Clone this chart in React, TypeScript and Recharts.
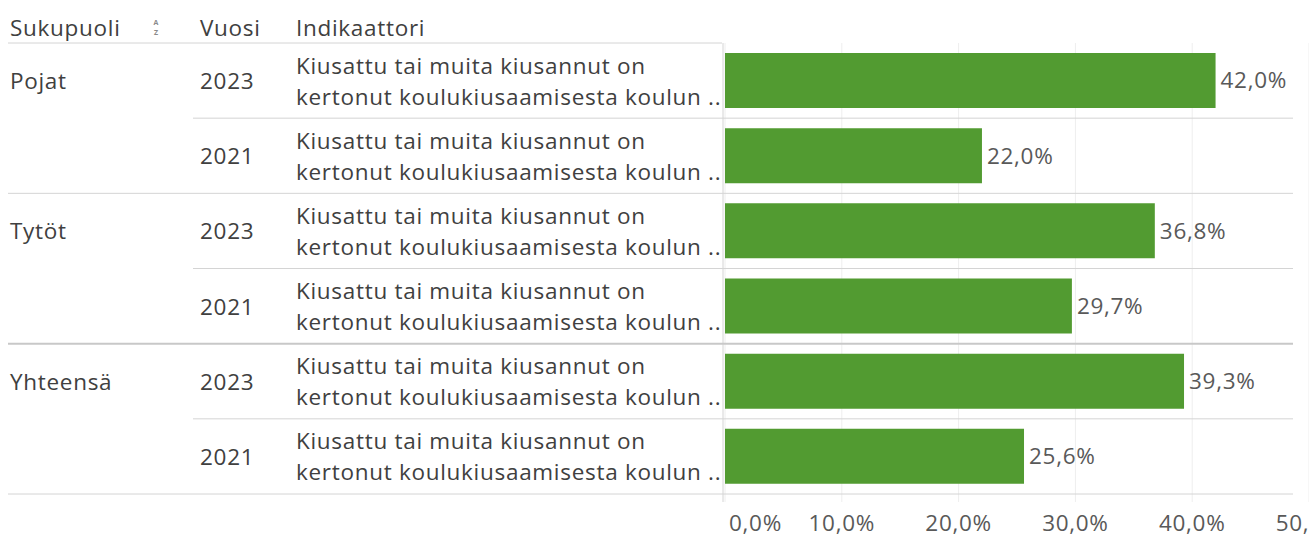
import React from 'react';
import { BarChart, Bar, XAxis, YAxis, CartesianGrid, LabelList } from 'recharts';

const genders = ['Pojat', 'Pojat', 'Tytöt', 'Tytöt', 'Yhteensä', 'Yhteensä'];
const years = ['2023', '2021', '2023', '2021', '2023', '2021'];
const indicatorLine1 = 'Kiusattu tai muita kiusannut on';
const indicatorLine2 = 'kertonut koulukiusaamisesta koulun ..';
const values = [42.0, 22.0, 36.8, 29.7, 39.3, 25.6];
const xTicks = [0, 10, 20, 30, 40, 50];
const headers = ['Sukupuoli', 'Vuosi', 'Indikaattori'];

const data = values.map((v, i) => ({
  id: `${genders[i]}-${years[i]}`,
  gender: genders[i],
  year: years[i],
  value: v,
}));

const W = 1309;
const H = 536;
const M = { top: 43, right: 0, bottom: 12, left: 0 };
const X_AXIS_H = 30;
const Y_AXIS_W = 725;
const PLOT_BOTTOM = H - M.bottom - X_AXIS_H;
const ROW_H = (PLOT_BOTTOM - M.top) / data.length;

const FONT = '"Open Sans", sans-serif';
const FS = 22.5;
const LS = 0.7;
const TEXT = '#404040';
const LABEL = '#595959';
const SEP = '#d4d4d4';

const fmt = (v: number) => v.toFixed(1).replace('.', ',') + '%';

const RowTick = (props: any) => {
  const { payload } = props;
  const index: number = props.index ?? payload.index;
  const cy: number = payload.coordinate;
  const d = data[index];
  if (!d) return null;
  const showGender = index === 0 || data[index - 1].gender !== d.gender;
  const isGroupEnd = index === data.length - 1 || data[index + 1].gender !== d.gender;
  const bottom = cy + ROW_H / 2;
  const top = cy - ROW_H / 2;
  const common = {
    fontFamily: FONT,
    fontSize: FS,
    fill: TEXT,
    letterSpacing: LS,
    dominantBaseline: 'central' as const,
  };
  return (
    <g>
      {index === 0 && (
        <g>
          <text x={10} y={top - 16} {...common}>{headers[0]}</text>
          <text x={156} y={top - 21} fontFamily={FONT} fontSize={7} fontWeight={700} fill="#8a8a8a" textAnchor="middle" dominantBaseline="central">A</text>
          <text x={156} y={top - 11} fontFamily={FONT} fontSize={7} fontWeight={700} fill="#8a8a8a" textAnchor="middle" dominantBaseline="central">Z</text>
          <text x={200} y={top - 16} {...common}>{headers[1]}</text>
          <text x={296} y={top - 16} {...common}>{headers[2]}</text>
          <line x1={8} x2={722} y1={top} y2={top} stroke={SEP} strokeWidth={1} />
          <line x1={723} x2={723} y1={top} y2={PLOT_BOTTOM + 8} stroke={SEP} strokeWidth={1} />
        </g>
      )}
      {showGender && <text x={10} y={cy} {...common}>{d.gender}</text>}
      <text x={200} y={cy} {...common}>{d.year}</text>
      <text x={296} y={cy - 15.5} {...common}>{indicatorLine1}</text>
      <text x={296} y={cy + 15.5} {...common}>{indicatorLine2}</text>
      <line
        x1={isGroupEnd ? 8 : 193}
        x2={1293}
        y1={bottom}
        y2={bottom}
        stroke={index === 3 ? '#c8c8c8' : SEP}
        strokeWidth={index === 3 ? 2 : 1}
      />
    </g>
  );
};

const XTick = (props: any) => {
  const { payload, index } = props;
  const x: number = payload.coordinate;
  const first = index === 0;
  return (
    <text
      x={first ? x + 4 : x}
      y={PLOT_BOTTOM + 28}
      textAnchor={first ? 'start' : 'middle'}
      dominantBaseline="central"
      fontFamily={FONT}
      fontSize={FS}
      letterSpacing={LS}
      fill={LABEL}
    >
      {fmt(payload.value)}
    </text>
  );
};

export default function App() {
  return (
    <div style={{ position: 'absolute', left: 0, top: 0, width: W, height: H, background: '#fff' }}>
      <BarChart width={W} height={H} data={data} layout="vertical" margin={M}>
        <CartesianGrid horizontal={false} stroke="#eeeeee" />
        <XAxis
          type="number"
          domain={[0, 50]}
          ticks={xTicks}
          height={X_AXIS_H}
          axisLine={false}
          tickLine={{ stroke: '#eeeeee' }}
          tickSize={8}
          tick={<XTick />}
          interval={0}
        />
        <YAxis
          type="category"
          dataKey="id"
          width={Y_AXIS_W}
          axisLine={false}
          tickLine={false}
          tick={<RowTick />}
          interval={0}
        />
        <Bar dataKey="value" fill="#529b31" barSize={55} isAnimationActive={false}>
          <LabelList
            dataKey="value"
            position="right"
            offset={5}
            formatter={(v: any) => fmt(Number(v))}
            style={{ fontFamily: FONT, fontSize: FS, fill: LABEL, letterSpacing: LS }}
          />
        </Bar>
      </BarChart>
    </div>
  );
}
